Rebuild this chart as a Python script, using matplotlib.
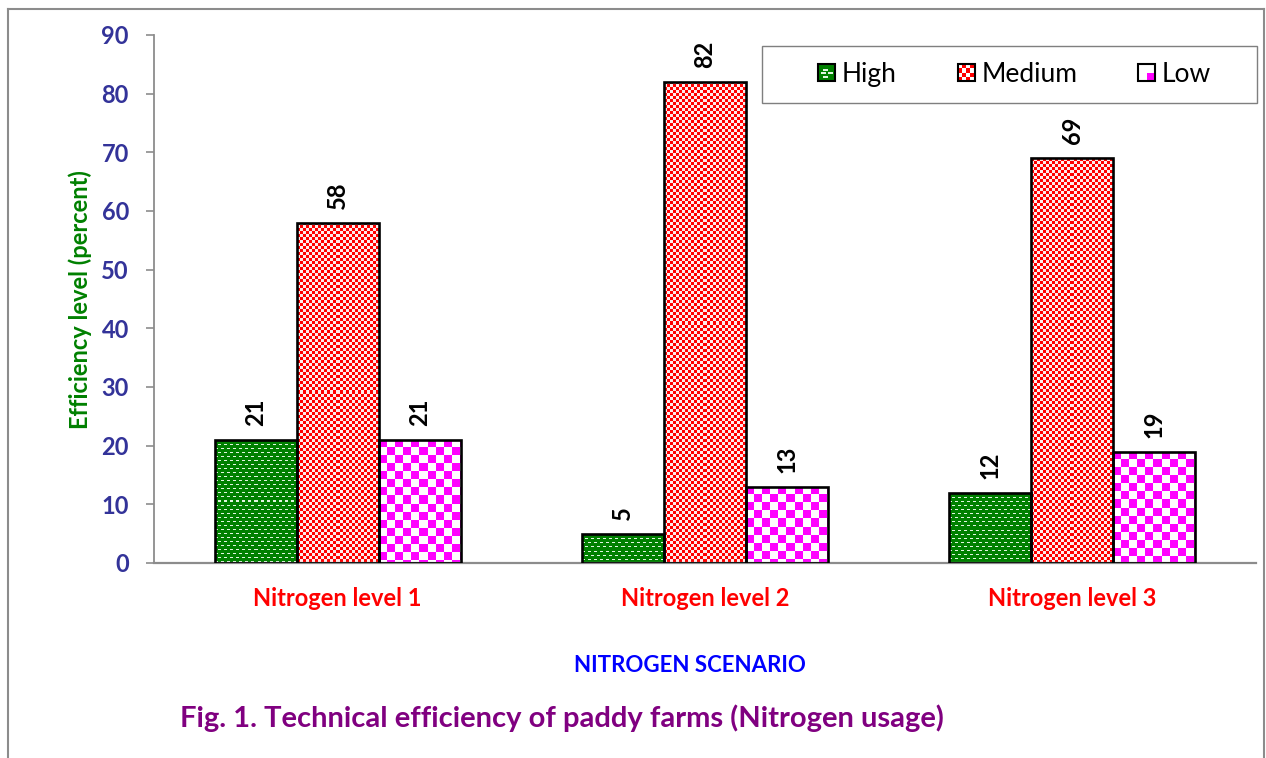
"""Technical efficiency of paddy farms by nitrogen scenario - grouped bars
with Excel-style texture fills (drawn as clipped images)."""
import numpy as np
import matplotlib
matplotlib.use("Agg")
from matplotlib import pyplot as plt
from matplotlib.patches import Patch, Rectangle
from matplotlib.legend_handler import HandlerBase
from matplotlib.lines import Line2D

plt.rcParams["font.family"] = ["Lato", "DejaVu Sans"]

# ---------------------------------------------------------------------------
categories = ["Nitrogen level 1", "Nitrogen level 2", "Nitrogen level 3"]
series = ["High", "Medium", "Low"]
high = [21, 5, 12]
medium = [58, 82, 69]
low = [21, 13, 19]
yticks = [0, 10, 20, 30, 40, 50, 60, 70, 80, 90]

W, H, DPI = 1266, 758, 100
GREEN = np.array([0, 128, 0]) / 255
PALE = np.array([225, 245, 225]) / 255
RED = np.array([255, 0, 0]) / 255
PINK = np.array([255, 235, 235]) / 255
MAGENTA = np.array([255, 0, 255]) / 255
WHITE = np.array([1.0, 1.0, 1.0])


def texture(kind, w, h):
    """Pixel texture (h, w, 3) imitating the Excel pattern fills."""
    yy, xx = np.mgrid[0:h, 0:w]
    img = np.empty((h, w, 3))
    if kind == "High":
        img[:] = GREEN
        shift = ((yy // 4) % 2) * 3
        dash = ((yy % 4) == 1) & (((xx + shift) % 6) < 3)
        img[dash] = PALE
    elif kind == "Medium":
        img[:] = RED
        img[((xx // 3) + (yy // 3)) % 2 == 1] = PINK
    else:
        img[:] = WHITE
        img[((xx // 8) + (yy // 8)) % 2 == 0] = MAGENTA
    return img


class TextureHandler(HandlerBase):
    def __init__(self, kind):
        super().__init__()
        self.kind = kind

    def create_artists(self, legend, orig_handle, xdescent, ydescent,
                       width, height, fontsize, trans):
        s = min(width, height)
        x0 = -xdescent + (width - s) / 2
        y0 = -ydescent + (height - s) / 2
        arts = []
        if self.kind == "High":
            bg, fg = GREEN, PALE
            cells = [(0.3, 0.62, 0.3, 0.12), (0.15, 0.4, 0.3, 0.12),
                     (0.55, 0.4, 0.3, 0.12), (0.3, 0.18, 0.3, 0.12)]
        elif self.kind == "Medium":
            bg, fg = RED, WHITE
            cells = [(i / 4, j / 4, 0.25, 0.25) for i in range(4)
                     for j in range(4) if (i + j) % 2]
        else:
            bg, fg = WHITE, MAGENTA
            cells = [(0.5, 0, 0.5, 0.5)]
        arts.append(Rectangle((x0, y0), s, s, facecolor=bg, edgecolor="none",
                              transform=trans))
        for cx, cy, cw, ch in cells:
            arts.append(Rectangle((x0 + cx * s, y0 + cy * s), cw * s, ch * s,
                                  facecolor=fg, edgecolor="none",
                                  transform=trans))
        arts.append(Rectangle((x0, y0), s, s, facecolor="none",
                              edgecolor="black", lw=1.5, transform=trans))
        return arts


fig = plt.figure(figsize=(W / DPI, H / DPI), dpi=DPI)
ax = fig.add_axes((154 / W, 1 - 563 / H, (1256 - 154) / W, (563 - 35) / H))

x = np.arange(len(categories))
bw = 0.2235
data = {"High": high, "Medium": medium, "Low": low}
offsets = {"High": -bw, "Medium": 0.0, "Low": bw}

ax.set_xlim(-0.5, len(categories) - 0.5)
ax.set_ylim(0, 90)

for name in series:
    bars = ax.bar(x + offsets[name], data[name], bw, facecolor="none",
                  edgecolor="black", linewidth=1.9, zorder=3)
    for rect, v in zip(bars, data[name]):
        bx, by = rect.get_x(), rect.get_y()
        bwid, bh = rect.get_width(), rect.get_height()
        p0 = ax.transData.transform((bx, by))
        p1 = ax.transData.transform((bx + bwid, by + bh))
        wpx = max(int(round(p1[0] - p0[0])), 1)
        hpx = max(int(round(p1[1] - p0[1])), 1)
        im = ax.imshow(texture(name, wpx, hpx),
                       extent=(bx, bx + bwid, by, by + bh),
                       interpolation="nearest", aspect="auto", zorder=2)
        im.set_clip_path(rect)
        ax.annotate(str(v), (bx + bwid / 2, by + bh), xytext=(0, 10),
                    textcoords="offset points", rotation=90, ha="center",
                    va="bottom", fontsize=17, fontweight="bold", color="black")

ax.set_xlim(-0.5, len(categories) - 0.5)
ax.set_ylim(0, 90)

ax.set_yticks(yticks)
ax.set_xticks(x)
ax.set_xticklabels(categories, color="#ff0000", fontweight="bold", fontsize=17)
ax.tick_params(axis="x", length=0, pad=17)
ax.tick_params(axis="y", length=6, width=1.2, color="#8c8c8c", pad=12,
               labelsize=17, labelcolor="#333399")
for lab in ax.get_yticklabels():
    lab.set_fontweight("bold")

for side in ("top", "right"):
    ax.spines[side].set_visible(False)
ax.spines["left"].set_color("#8c8c8c")
ax.spines["left"].set_linewidth(1.3)
ax.spines["bottom"].set_color("#8c8c8c")
ax.spines["bottom"].set_linewidth(1.6)

# legend: frame drawn separately so the entries can sit centred in it
lx0, ly0, lx1, ly1 = 762, 46, 1257, 103
fig.add_artist(Rectangle((lx0 / W, 1 - ly1 / H), (lx1 - lx0) / W,
                         (ly1 - ly0) / H, transform=fig.transFigure,
                         facecolor="white", edgecolor="#7f7f7f", lw=1.0,
                         zorder=4))
handles = [Patch(label=s) for s in series]
leg = fig.legend(handles=handles, labels=series, ncol=3, loc="center",
                 bbox_to_anchor=((lx0 + lx1) / 2 / W + 0.004,
                                 1 - (ly0 + ly1) / 2 / H),
                 bbox_transform=fig.transFigure,
                 handler_map={h: TextureHandler(s) for h, s in zip(handles, series)},
                 fontsize=19, frameon=False,
                 handlelength=0.65, handleheight=0.65, handletextpad=0.25,
                 columnspacing=2.3, borderpad=0)
leg.set_zorder(5)

fig.text(80 / W, 1 - 300 / H, "Efficiency level (percent)", rotation=90,
         ha="center", va="center", color="#008000", fontweight="bold",
         fontsize=17)
fig.text(690 / W, 1 - 665 / H, "NITROGEN SCENARIO", ha="center", va="center",
         color="#0000ff", fontweight="bold", fontsize=16)
fig.text(180 / W, 1 - 718 / H, "Fig. 1. Technical efficiency of paddy farms "
         "(Nitrogen usage)", ha="left", va="center", color="#800080",
         fontweight="bold", fontsize=21)

# outer chart-area border (bottom edge falls outside the image)
for xs, ys in [((8, 8), (-5, H - 9)), ((8, 1264), (H - 9, H - 9)),
               ((1264, 1264), (-5, H - 9))]:
    fig.add_artist(Line2D(np.array(xs) / W, np.array(ys) / H,
                          color="#8c8c8c", lw=1.5, transform=fig.transFigure))

fig.savefig("out.png", dpi=DPI, facecolor="white")
